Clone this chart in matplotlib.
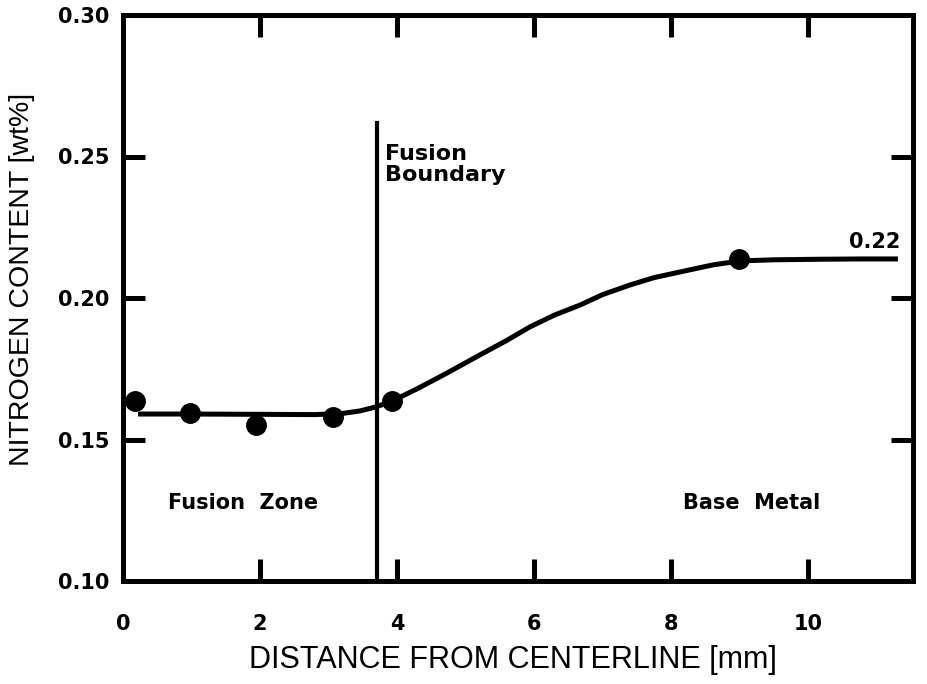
import matplotlib
matplotlib.use("Agg")
import matplotlib.pyplot as plt

# measured points
x_pts = [0.18, 0.98, 1.94, 3.07, 3.93, 8.99]
y_pts = [0.1636, 0.1594, 0.1551, 0.1580, 0.1636, 0.2138]

# hand-drawn fit curve
x_curve = [0.22, 0.98, 1.94, 2.80, 3.20, 3.46, 3.69, 3.93, 4.30, 4.73, 5.21,
           5.60, 5.94, 6.30, 6.67, 7.00, 7.40, 7.75, 8.13, 8.61, 9.00, 9.50,
           10.20, 10.80, 11.31]
y_curve = [0.1590, 0.1590, 0.1589, 0.1588, 0.1592, 0.1601, 0.1615, 0.1636,
           0.1680, 0.1735, 0.1799, 0.1850, 0.1898, 0.1940, 0.1975, 0.2012,
           0.2046, 0.2072, 0.2092, 0.2117, 0.2131, 0.2135, 0.2137, 0.2138,
           0.2138]

boundary_x = 3.70
boundary_top = 0.262

x_ticks = [0, 2, 4, 6, 8, 10]
y_ticks = [0.10, 0.15, 0.20, 0.25, 0.30]
y_tick_labels = ["0.10", "0.15", "0.20", "0.25", "0.30"]

fig = plt.figure(figsize=(9.27, 6.84), dpi=100)
ax = fig.add_axes([123/927, 103/684, (913-123)/927, (581-15)/684])

ax.plot(x_curve, y_curve, color="black", lw=3.6, solid_capstyle="butt",
        solid_joinstyle="round", zorder=3)
ax.plot(x_pts, y_pts, "o", color="black", ms=14, zorder=4)
ax.plot([boundary_x, boundary_x], [0.10, boundary_top], color="black", lw=3, zorder=3)

ax.set_xlim(0, 11.53)
ax.set_ylim(0.10, 0.30)
ax.set_xticks(x_ticks)
ax.set_yticks(y_ticks)
ax.set_yticklabels(y_tick_labels)

for s in ax.spines.values():
    s.set_linewidth(3.6)
ax.tick_params(direction="in", length=16, width=3.6, top=True, right=True,
               pad=10)
ax.tick_params(axis="x", pad=24)
for lab in ax.get_xticklabels() + ax.get_yticklabels():
    lab.set_fontfamily("DejaVu Sans")
    lab.set_fontweight("heavy")
    lab.set_fontsize(15)

ax.set_xlabel("DISTANCE FROM CENTERLINE [mm]", fontfamily="Liberation Sans",
              fontsize=22)
ax.set_ylabel("NITROGEN CONTENT [wt%]", fontfamily="Liberation Sans",
              fontsize=20.5)
ax.xaxis.set_label_coords(0.494, -0.113)
ax.yaxis.set_label_coords(-0.112, 0.532)

tkw = dict(fontfamily="DejaVu Sans", fontweight="heavy", fontsize=15, color="black")
ax.text(1.75, 0.1276, "Fusion  Zone", ha="center", va="center", **tkw)
ax.text(9.18, 0.1276, "Base  Metal", ha="center", va="center", **tkw)
ax.text(3.82, 0.2545, "Fusion\nBoundary", ha="left", va="top", linespacing=1.05,
        fontfamily="DejaVu Sans", fontweight="heavy", fontsize=16)
ax.text(11.35, 0.2163, "0.22", ha="right", va="bottom", fontfamily="DejaVu Sans",
        fontweight="heavy", fontsize=15)

fig.savefig("out.png", dpi=100)
